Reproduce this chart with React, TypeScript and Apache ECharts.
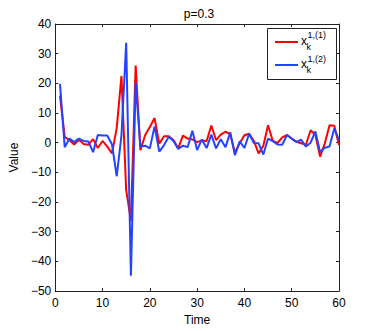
import React, { useEffect, useRef } from "react";
import * as echarts from "echarts";

const times: number[] = Array.from({ length: 60 }, (_, i) => i + 1);

const seriesRed: number[] = [
  15.9, 2, 0.8, -0.6, 1, -0.4, -0.7, 1.2, -1.8, 0.6,
  -1.3, -3.6, 5, 22.5, -16, -26.3, 26, -2.5, 2.5, 5.3,
  8.3, -0.3, 2.2, 2.2, 0.9, -1.9, 2.4, 1.4, 1.1, 0.2,
  0.8, 0.5, 5.8, 0.9, 2.7, 3.7, 2.8, -3.4, -0.2, 2.5,
  3, 0.6, -3.6, -1, 5.9, 0.6, -0.1, 1.8, 2.6, 1.4,
  0.3, -0.2, -0.7, 4.2, 2.7, -4.7, -0.2, 5.9, 5.7, -0.8,
];

const seriesBlue: number[] = [
  19.8, -1.5, 1.4, 0.2, 1.4, 0.6, 0.4, -3.2, 2.6, 2.4,
  2.4, -0.6, -11.3, 2.5, 33.7, -44.8, 20.3, -1.3, -1, -1.9,
  5.5, -3, -0.8, 2, 0.6, -2.1, -1, -1.5, 4, -2.5,
  1.1, -1.8, 2.7, -1.9, 1.2, -1.5, 3.5, -4.2, 0.5, -1.8,
  3, -0.1, -0.2, -4, 1.4, 0.5, -0.6, -0.7, 2.6, 1.4,
  0.3, 1, -1.3, 0, 3.8, -3.1, -1.7, -1.3, 4.8, 0.9,
];

const xTicks = { min: 0, max: 60, interval: 10 };
const yTicks = { min: -50, max: 40, interval: 10 };

const FONT = "'Liberation Sans', Arial, Helvetica, sans-serif";
const RED = "#ff0000";
const BLUE = "#2244ff";
const AXIS = "#222222";

export default function App() {
  const ref = useRef<HTMLDivElement>(null);
  useEffect(() => {
    if (!ref.current) return;
    const chart = echarts.init(ref.current, undefined, { renderer: "svg" });
    const fmt = (v: number) => String(v).replace("-", "\u2212");
    const axisCommon = {
      axisLine: { show: true, onZero: false, lineStyle: { color: AXIS, width: 1 } },
      axisTick: { show: true, inside: true, length: 3, lineStyle: { color: AXIS } },
      splitLine: { show: false },
    };
    chart.setOption({
      animation: false,
      backgroundColor: "#ffffff",
      title: {
        text: "p=0.3",
        left: 194,
        textAlign: "center",
        top: 3,
        textStyle: { fontFamily: FONT, fontSize: 12, fontWeight: "normal", color: "#000" },
      },
      grid: { left: 49, right: 35, top: 24, bottom: 37, containLabel: false },
      xAxis: [
        {
          type: "value",
          ...xTicks,
          ...axisCommon,
          position: "bottom",
          name: "Time",
          nameLocation: "middle",
          nameGap: 16,
          nameTextStyle: { fontFamily: FONT, fontSize: 12, color: "#000" },
          axisLabel: { fontFamily: FONT, fontSize: 12, color: "#000", margin: 6, formatter: fmt },
        },
        {
          type: "value",
          ...xTicks,
          ...axisCommon,
          position: "top",
          axisLabel: { show: false },
        },
      ],
      yAxis: [
        {
          type: "value",
          ...yTicks,
          ...axisCommon,
          position: "left",
          name: "Value",
          nameLocation: "middle",
          nameGap: 31,
          nameTextStyle: { fontFamily: FONT, fontSize: 12, color: "#000" },
          axisLabel: { fontFamily: FONT, fontSize: 12, color: "#000", margin: 4, formatter: fmt },
        },
        {
          type: "value",
          ...yTicks,
          ...axisCommon,
          position: "right",
          axisLabel: { show: false },
        },
      ],
      series: [
        {
          type: "line",
          name: "x1",
          xAxisIndex: 0,
          yAxisIndex: 0,
          data: times.map((t, i) => [t, seriesRed[i]]),
          showSymbol: false,
          lineStyle: { color: RED, width: 2 },
          itemStyle: { color: RED },
        },
        {
          type: "line",
          name: "x2",
          xAxisIndex: 0,
          yAxisIndex: 0,
          data: times.map((t, i) => [t, seriesBlue[i]]),
          showSymbol: false,
          lineStyle: { color: BLUE, width: 2 },
          itemStyle: { color: BLUE },
        },
      ],
      graphic: [
        {
          type: "rect",
          shape: { x: 267.5, y: 28.5, width: 69, height: 51 },
          style: { fill: "#ffffff", stroke: AXIS, lineWidth: 1 },
          z: 100,
        },
        {
          type: "line",
          shape: { x1: 275, y1: 42, x2: 298, y2: 42 },
          style: { stroke: RED, lineWidth: 2 },
          z: 101,
        },
        {
          type: "line",
          shape: { x1: 275, y1: 65, x2: 298, y2: 65 },
          style: { stroke: BLUE, lineWidth: 2 },
          z: 101,
        },
        { type: "text", x: 301, y: 35, z: 101, style: { text: "x", font: `12px ${FONT}`, fill: "#000" } },
        { type: "text", x: 307.5, y: 30, z: 101, style: { text: "1,(1)", font: `9px ${FONT}`, fill: "#000" } },
        { type: "text", x: 306.5, y: 42.5, z: 101, style: { text: "k", font: `9px ${FONT}`, fill: "#000" } },
        { type: "text", x: 301, y: 58, z: 101, style: { text: "x", font: `12px ${FONT}`, fill: "#000" } },
        { type: "text", x: 307.5, y: 54, z: 101, style: { text: "1,(2)", font: `9px ${FONT}`, fill: "#000" } },
        { type: "text", x: 306.5, y: 65.5, z: 101, style: { text: "k", font: `9px ${FONT}`, fill: "#000" } },
      ],
    });
    return () => chart.dispose();
  }, []);
  return (
    <div
      ref={ref}
      style={{ position: "fixed", left: 0, top: 0, width: 374, height: 331 }}
    />
  );
}
